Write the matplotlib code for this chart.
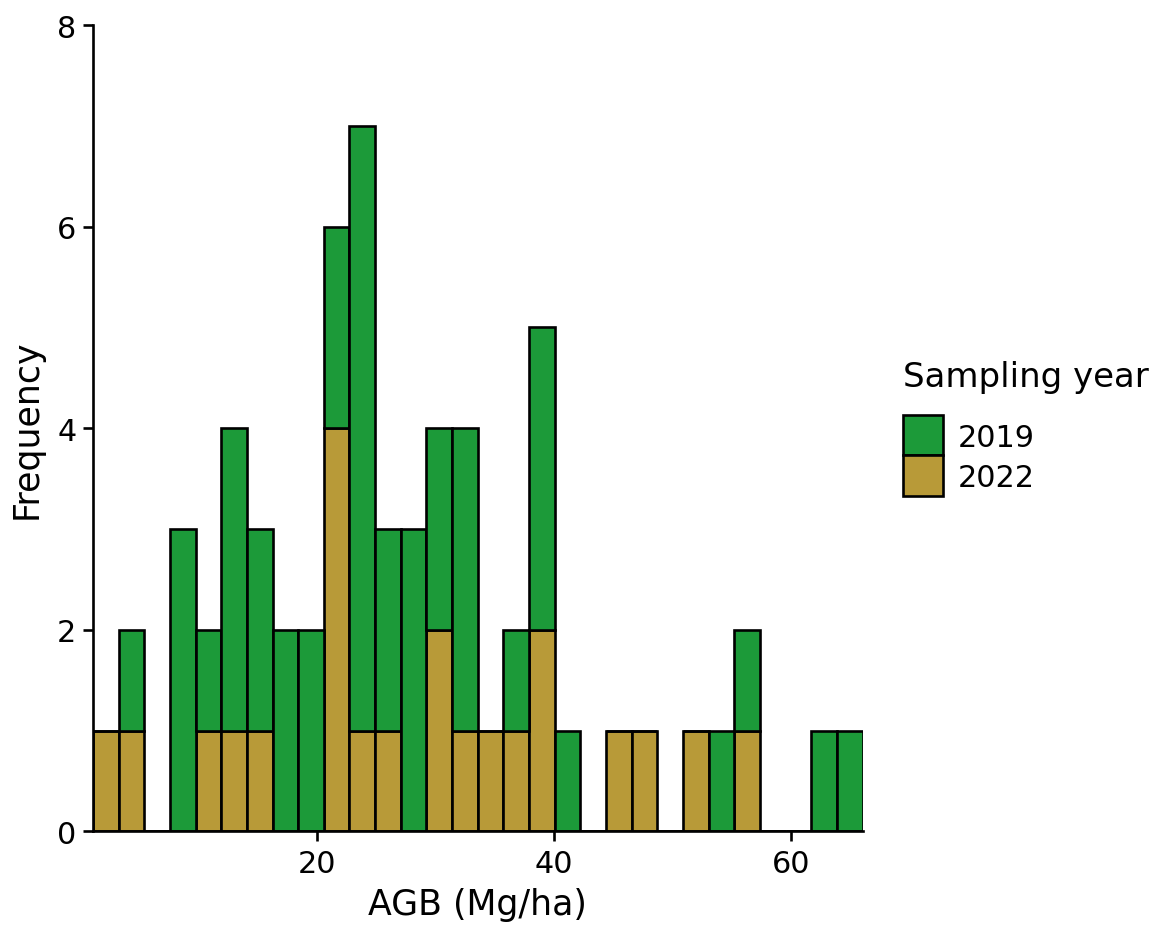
import matplotlib
matplotlib.use("Agg")
import matplotlib.pyplot as plt
from matplotlib.patches import Rectangle
import numpy as np

plt.rcParams['font.family'] = ['DejaVu Sans']

# Histogram bins (30 bins over the AGB range)
bin_start = 1.15
bin_width = 2.162
n_bins = 30

# Counts per bin for each sampling year
counts_2022 = [1, 1, 0, 0, 1, 1, 1, 0, 0, 4, 1, 1, 0, 2, 1,
               1, 1, 2, 0, 0, 1, 1, 0, 1, 0, 1, 0, 0, 0, 0]
counts_2019 = [0, 1, 0, 3, 1, 3, 2, 2, 2, 2, 6, 2, 3, 2, 3,
               0, 1, 3, 1, 0, 0, 0, 0, 0, 1, 1, 0, 0, 1, 1]

years = ["2019", "2022"]
colors = {"2019": "#1c9a39", "2022": "#b89a38"}

x_ticks = [20, 40, 60]
y_ticks = [0, 2, 4, 6, 8]

W, H = 1156, 928
fig = plt.figure(figsize=(W / 100, H / 100), dpi=100)
left, right, bottom, top = 93, 862.5, 832.3, 26
aw, ah = right - left, bottom - top
ax = fig.add_axes([left / W, 1 - bottom / H, aw / W, ah / H])

edges = bin_start + bin_width * np.arange(n_bins)
lw = 1.9
ax.bar(edges, counts_2022, width=bin_width, align='edge',
       color=colors["2022"], edgecolor='black', linewidth=lw, zorder=2)
ax.bar(edges, counts_2019, width=bin_width, align='edge', bottom=counts_2022,
       color=colors["2019"], edgecolor='black', linewidth=lw, zorder=2)

ax.set_xlim(bin_start, bin_start + bin_width * n_bins)
ax.set_ylim(0, 8)
ax.set_xticks(x_ticks)
ax.set_yticks(y_ticks)
for s in ['top', 'right']:
    ax.spines[s].set_visible(False)
for s in ['left', 'bottom']:
    ax.spines[s].set_linewidth(1.9)
    ax.spines[s].set_zorder(3)
    ax.spines[s].set_capstyle('projecting')
ax.tick_params(axis='both', length=7, width=1.9, labelsize=21.8, colors='black')
ax.tick_params(axis='x', pad=6)
ax.tick_params(axis='y', pad=5)

ax.set_xlabel("AGB (Mg/ha)", fontsize=25)
ax.xaxis.label.set_va('baseline')
ax.xaxis.set_label_coords(0.5, -(915 - bottom) / ah)
ax.set_ylabel("Frequency", fontsize=25)
ax.yaxis.label.set_va('baseline')
ax.yaxis.set_label_coords(-(left - 37) / aw, 0.5)

# Legend drawn in figure pixel coordinates
def fx(px):
    return px / W

def fy(py):
    return 1 - py / H

fig.text(fx(903), fy(387), "Sampling year", fontsize=24.5, va='baseline', ha='left')
key_h = 40.5
key_top = 415.5
for i, yr in enumerate(years):
    y0 = key_top + i * key_h
    fig.add_artist(Rectangle((fx(903), fy(y0 + key_h)), 40 / W, key_h / H,
                             transform=fig.transFigure, facecolor=colors[yr],
                             edgecolor='black', linewidth=lw))
    fig.text(fx(958), fy(y0 + key_h / 2 + 11), yr, fontsize=21.8,
             va='baseline', ha='left')

fig.savefig("out.png", dpi=100)
